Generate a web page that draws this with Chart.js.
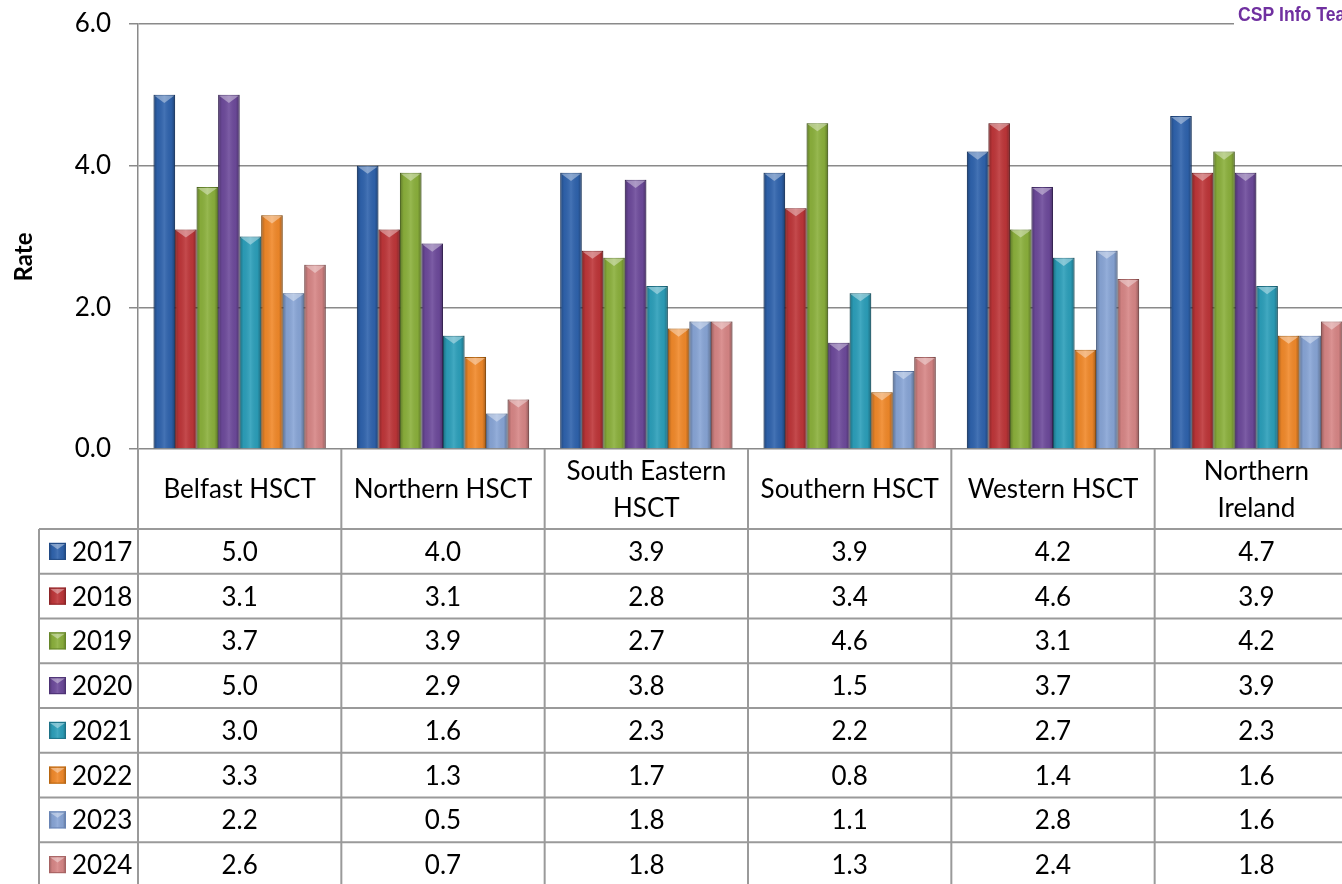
<!DOCTYPE html>
<html>
<head>
<meta charset="utf-8">
<script src="https://cdn.jsdelivr.net/npm/chart.js@4.4.1/dist/chart.umd.min.js"></script>
<style>
  html, body { margin: 0; padding: 0; background: #fff; overflow: hidden; }
  #wrap { width: 1358px; height: 884px; }
</style>
</head>
<body>
<div id="wrap"><canvas id="rateChart" width="1358" height="884"></canvas></div>
<script>
// categories (header cells, wrapped as in the original)
const categories = [
    ['Belfast HSCT'],
    ['Northern HSCT'],
    ['South Eastern', 'HSCT'],
    ['Southern HSCT'],
    ['Western HSCT'],
    ['Northern', 'Ireland']
];
const years = ['2017', '2018', '2019', '2020', '2021', '2022', '2023', '2024'];

const rate2017 = [5.0, 4.0, 3.9, 3.9, 4.2, 4.7];
const rate2018 = [3.1, 3.1, 2.8, 3.4, 4.6, 3.9];
const rate2019 = [3.7, 3.9, 2.7, 4.6, 3.1, 4.2];
const rate2020 = [5.0, 2.9, 3.8, 1.5, 3.7, 3.9];
const rate2021 = [3.0, 1.6, 2.3, 2.2, 2.7, 2.3];
const rate2022 = [3.3, 1.3, 1.7, 0.8, 1.4, 1.6];
const rate2023 = [2.2, 0.5, 1.8, 1.1, 2.8, 1.6];
const rate2024 = [2.6, 0.7, 1.8, 1.3, 2.4, 1.8];
const allRates = [rate2017, rate2018, rate2019, rate2020, rate2021, rate2022, rate2023, rate2024];

// fill / edge colour per year
const fills = ['#2f63ad', '#be3639', '#8bb03c', '#6d4a9b', '#2c9fba', '#f1892a', '#88a5d6', '#d78686'];
const edges = ['#214a85', '#8c2427', '#66862a', '#4c3274', '#1d7187', '#b8660f', '#6884b5', '#a66262'];

const FONT = 'Lato, "Open Sans", sans-serif';
const GRID = '#8a8a8a';
const TABLE_LINE = '#9a9a9a';
const HEADER_H = 80;
const ROW_H = 44.75;
const LEGEND_LEFT = 39;

// bevel look on each bar, drawn from the bar elements
const bevelPlugin = {
    id: 'bevel',
    afterDatasetsDraw(chart) {
        const ctx = chart.ctx;
        ctx.save();
        chart.data.datasets.forEach((ds, i) => {
            chart.getDatasetMeta(i).data.forEach(bar => {
                const p = bar.getProps(['x', 'y', 'base', 'width'], true);
                drawBevel(ctx, p.x - p.width / 2, p.y, p.width, p.base - p.y);
            });
        });
        ctx.restore();
    }
};

function drawBevel(ctx, l, top, w, h) {
    const g = ctx.createLinearGradient(l, 0, l + w, 0);
    g.addColorStop(0, 'rgba(0,0,0,0.30)');
    g.addColorStop(0.18, 'rgba(0,0,0,0.04)');
    g.addColorStop(0.5, 'rgba(255,255,255,0.10)');
    g.addColorStop(0.82, 'rgba(0,0,0,0.04)');
    g.addColorStop(1, 'rgba(0,0,0,0.32)');
    ctx.fillStyle = g;
    ctx.fillRect(l, top, w, h);
    ctx.beginPath();
    ctx.moveTo(l + 1, top + 1);
    ctx.lineTo(l + w - 1, top + 1);
    ctx.lineTo(l + w / 2, top + Math.min(w * 0.38, h));
    ctx.closePath();
    ctx.fillStyle = 'rgba(255,255,255,0.38)';
    ctx.fill();
}

// data table under the plot + axis title + watermark
const tablePlugin = {
    id: 'dataTable',
    afterDraw(chart) {
        const ctx = chart.ctx;
        const area = chart.chartArea;
        const n = categories.length;
        const colW = (area.right - area.left) / n;
        const top = area.bottom;
        const rowsTop = top + HEADER_H;
        const bottom = rowsTop + ROW_H * years.length;

        ctx.save();
        ctx.strokeStyle = TABLE_LINE;
        ctx.lineWidth = 2;

        // vertical lines
        for (let c = 0; c <= n; c++) {
            const x = area.left + c * colW;
            ctx.beginPath();
            ctx.moveTo(x, top);
            ctx.lineTo(x, bottom);
            ctx.stroke();
        }
        ctx.beginPath();
        ctx.moveTo(LEGEND_LEFT, rowsTop);
        ctx.lineTo(LEGEND_LEFT, bottom);
        ctx.stroke();

        // horizontal lines
        for (let r = 0; r <= years.length; r++) {
            const y = rowsTop + r * ROW_H;
            ctx.beginPath();
            ctx.moveTo(LEGEND_LEFT, y);
            ctx.lineTo(area.right, y);
            ctx.stroke();
        }

        ctx.fillStyle = '#000';
        ctx.font = '26px ' + FONT;
        ctx.textAlign = 'center';
        ctx.textBaseline = 'middle';

        // header
        categories.forEach((lines, c) => {
            const cx = area.left + (c + 0.5) * colW;
            const cy = top + HEADER_H / 2 + 1;
            const lh = 37;
            lines.forEach((t, k) => {
                ctx.fillText(t, cx, cy + (k - (lines.length - 1) / 2) * lh);
            });
        });

        // rows
        years.forEach((yr, r) => {
            const cy = rowsTop + (r + 0.5) * ROW_H;
            const kx = 49, ks = 17;
            ctx.fillStyle = fills[r];
            ctx.fillRect(kx, cy - ks / 2, ks, ks);
            drawBevel(ctx, kx, cy - ks / 2, ks, ks);
            ctx.strokeStyle = edges[r];
            ctx.lineWidth = 1;
            ctx.strokeRect(kx + 0.5, cy - ks / 2 + 0.5, ks - 1, ks - 1);

            ctx.fillStyle = '#000';
            ctx.textAlign = 'left';
            ctx.fillText(yr, 72, cy + 1);
            ctx.textAlign = 'center';
            allRates[r].forEach((v, c) => {
                ctx.fillText(v.toFixed(1), area.left + (c + 0.5) * colW, cy + 1);
            });
        });

        // axis title
        ctx.save();
        ctx.translate(24, 257);
        ctx.rotate(-Math.PI / 2);
        ctx.font = 'bold 24px ' + FONT;
        ctx.fillText('Rate', 0, 0);
        ctx.restore();

        // watermark (bold face, squeezed horizontally)
        ctx.fillStyle = '#fff';
        ctx.fillRect(1234, 0, 130, 30);
        ctx.save();
        ctx.translate(1238, 21);
        ctx.scale(0.88, 1);
        ctx.font = 'bold 20px "Liberation Sans", Arial, sans-serif';
        ctx.fillStyle = '#7030a0';
        ctx.textAlign = 'left';
        ctx.textBaseline = 'alphabetic';
        ctx.fillText('CSP Info Team', 0, 0);
        ctx.restore();
        ctx.restore();
    }
};

const datasets = years.map((yr, i) => ({
    label: yr,
    data: allRates[i],
    backgroundColor: fills[i],
    borderColor: edges[i],
    borderWidth: 1,
    categoryPercentage: 0.847,
    barPercentage: 1.0
}));

new Chart(document.getElementById('rateChart'), {
    type: 'bar',
    data: {
        labels: categories,
        datasets: datasets
    },
    options: {
        responsive: false,
        animation: false,
        layout: {
            padding: { top: 24, right: 0, bottom: 435, left: 0 }
        },
        plugins: {
            legend: { display: false },
            tooltip: { enabled: false }
        },
        scales: {
            x: {
                display: false
            },
            y: {
                min: 0,
                max: 6,
                afterFit(scale) {
                    scale.width = 138;
                    scale.paddingTop = 0;
                    scale.paddingBottom = 0;
                },
                ticks: {
                    stepSize: 2,
                    padding: 18,
                    color: '#000',
                    font: { family: FONT, size: 26 },
                    callback: v => v.toFixed(1)
                },
                grid: {
                    color: GRID,
                    lineWidth: 1.5,
                    tickLength: 9
                },
                border: { color: GRID, width: 1.5 }
            }
        }
    },
    plugins: [bevelPlugin, tablePlugin]
});
</script>
</body>
</html>
